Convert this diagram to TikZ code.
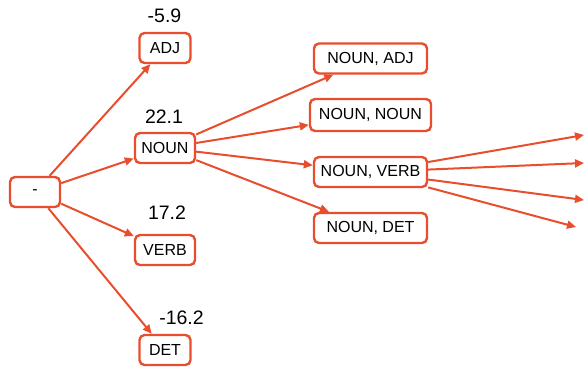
\documentclass[tikz,border=0pt]{standalone}
\usepackage{fontspec}
\setmainfont{Liberation Sans}
\usetikzlibrary{arrows.meta}
\definecolor{edgeorange}{RGB}{232,78,45}
\begin{document}
\begin{tikzpicture}[x=1pt,y=-1pt,
  tag/.style={draw=edgeorange,line width=2.4pt,fill=white,rounded corners=5pt,
    minimum height=30pt,inner xsep=4pt,inner ysep=2pt,font=\fontsize{16}{16}\selectfont,text=black},
  nar/.style={tag,minimum width=51pt},
  mid/.style={tag,minimum width=60pt},
  wide/.style={tag,minimum width=113pt},
  score/.style={font=\fontsize{19.5}{19.5}\selectfont,text=black,inner sep=0pt},
  conn/.style={draw=edgeorange,line width=2pt,-{Triangle[length=9pt,width=8pt]}}
]
\useasboundingbox (0,0) rectangle (584,368);
\node[tag,minimum width=50pt] (root) at (35,192) {-};
\node[nar] (adj) at (165,48) {ADJ};
\node[mid] (noun) at (165,148) {NOUN};
\node[mid] (verb) at (165,250) {VERB};
\node[nar] (det) at (165,350) {DET};
\node[score] (sadj) at (164.5,16) {-5.9};
\node[score] (snoun) at (164,117) {22.1};
\node[score] (sverb) at (167,213) {17.2};
\node[score] (sdet) at (181.5,317.5) {-16.2};
\node[wide] (nadj) at (370.5,58.5) {NOUN, ADJ};
\node[tag,minimum width=121pt,minimum height=32pt] (nnoun) at (370.5,115) {NOUN, NOUN};
\node[wide] (nverb) at (370.5,172) {NOUN, VERB};
\node[wide] (ndet) at (370.5,228) {NOUN, DET};
\coordinate (e1) at (584,135);
\coordinate (e2) at (584,163);
\coordinate (e3) at (584,200);
\coordinate (e4) at (576,227);
\draw[conn] (root) -- (adj);
\draw[conn] (root) -- (noun);
\draw[conn] (root) -- (verb);
\draw[conn] (root) -- (det);
\draw[conn] (noun) -- (nadj);
\draw[conn] (noun) -- (nnoun);
\draw[conn] (noun) -- (nverb);
\draw[conn] (noun) -- (ndet);
\draw[conn] (nverb) -- (e1);
\draw[conn] (nverb) -- (e2);
\draw[conn] (nverb) -- (e3);
\draw[conn] (nverb) -- (e4);
\end{tikzpicture}
\end{document}
